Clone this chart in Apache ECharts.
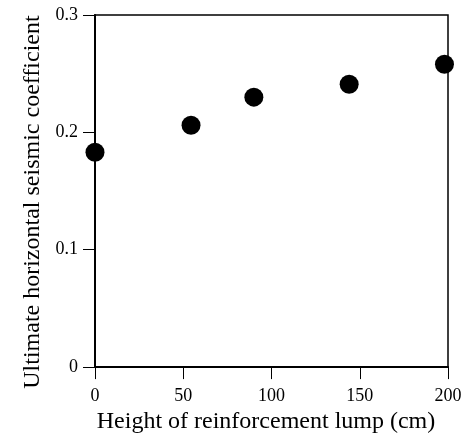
<!DOCTYPE html>
<html>
<head>
<meta charset="utf-8">
<script src="https://cdn.jsdelivr.net/npm/echarts@6/dist/echarts.min.js"></script>
<style>
  html, body { margin: 0; padding: 0; background: #fff; }
  #chart { width: 475px; height: 439px; }
</style>
</head>
<body>
<div id="chart"></div>
<script>
// reinforcement lump height (cm) vs ultimate horizontal seismic coefficient
var heights = [0, 54.4, 90, 144, 198];
var coefs = [0.183, 0.206, 0.230, 0.241, 0.258];
var xTicks = [0, 50, 100, 150, 200];
var yTicks = [0, 0.1, 0.2, 0.3];

var font = 'Liberation Serif';

var myChart = echarts.init(document.getElementById('chart'));

var points = heights.map(function (h, i) {
    return [h, coefs[i]];
});

var option = {
    animation: false,
    grid: {
        left: 95, right: 27, top: 15, bottom: 71,
        show: true,
        borderColor: '#000',
        borderWidth: 1.5
    },
    xAxis: {
        type: 'value',
        min: xTicks[0],
        max: xTicks[xTicks.length - 1],
        interval: 50,
        name: 'Height of reinforcement lump (cm)',
        nameLocation: 'middle',
        nameGap: 38,
        nameTextStyle: { fontFamily: font, fontSize: 24, color: '#000', padding: [0, 11, 0, 0] },
        axisLine: { lineStyle: { color: '#000', width: 2 } },
        axisTick: { inside: false, length: 12, lineStyle: { color: '#000', width: 1 } },
        axisLabel: { fontFamily: font, fontSize: 18, color: '#000', margin: 20 },
        splitLine: { show: false }
    },
    yAxis: {
        type: 'value',
        min: yTicks[0],
        max: yTicks[yTicks.length - 1],
        interval: 0.1,
        name: 'Ultimate horizontal seismic coefficient',
        nameLocation: 'middle',
        nameGap: 46,
        nameTextStyle: { fontFamily: font, fontSize: 24, color: '#000', padding: [0, 22, 0, 0] },
        axisLine: { show: true, lineStyle: { color: '#000', width: 2 } },
        axisTick: { show: true, length: 12, lineStyle: { color: '#000', width: 1 } },
        axisLabel: { fontFamily: font, fontSize: 18, color: '#000', margin: 17 },
        splitLine: { show: false }
    },
    series: [{
        type: 'scatter',
        data: points,
        symbol: 'circle',
        symbolSize: 19,
        clip: false,
        itemStyle: { color: '#000', opacity: 1 }
    }]
};

myChart.setOption(option);
</script>
</body>
</html>
